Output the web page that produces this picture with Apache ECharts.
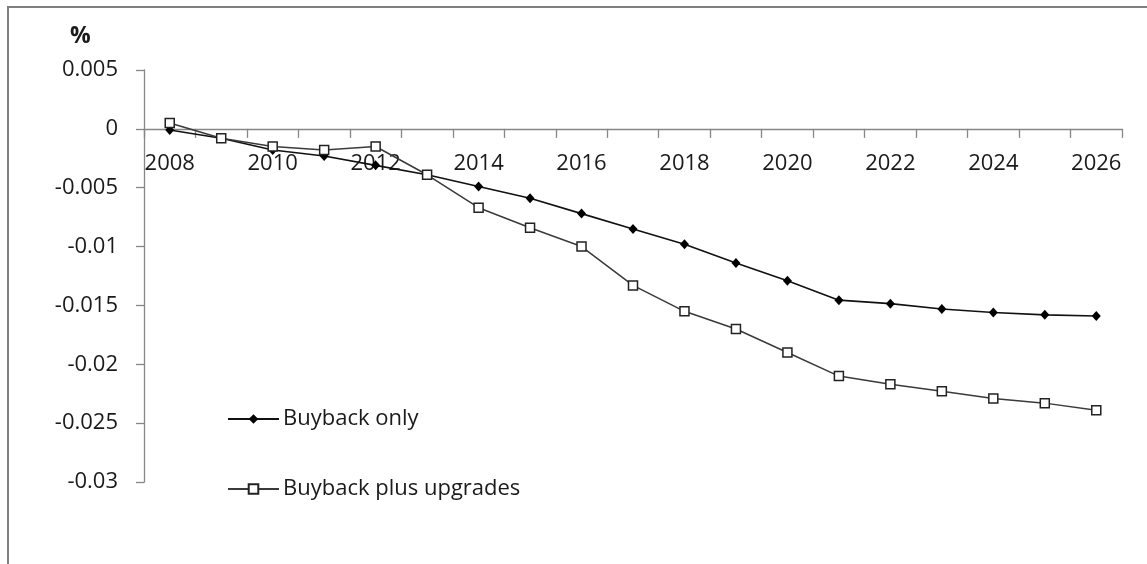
<!DOCTYPE html>
<html>
<head>
<meta charset="utf-8">
<script src="https://cdn.jsdelivr.net/npm/echarts@6/dist/echarts.min.js"></script>
<style>
html,body{margin:0;padding:0;background:#fff;}
#c{width:1147px;height:564px;}
</style>
</head>
<body>
<div id="c"></div>
<script>
const years = ['2008','2009','2010','2011','2012','2013','2014','2015','2016','2017','2018','2019','2020','2021','2022','2023','2024','2025','2026'];
const buybackOnly = [-0.0001,-0.0008,-0.0018,-0.0023,-0.0031,-0.0039,-0.0049,-0.0059,-0.0072,-0.0085,-0.0098,-0.0114,-0.0129,-0.01455,-0.01485,-0.0153,-0.0156,-0.0158,-0.0159];
const buybackPlusUpgrades = [0.0005,-0.0008,-0.0015,-0.0018,-0.0015,-0.0039,-0.0067,-0.0084,-0.0100,-0.0133,-0.0155,-0.0170,-0.0190,-0.0210,-0.0217,-0.0223,-0.0229,-0.0233,-0.0239];
const seriesNames = ['Buyback only','Buyback plus upgrades'];
const yMin = -0.03, yMax = 0.005, yStep = 0.005;
const unitLabel = '%';

const FONT = '"Open Sans", "Liberation Sans", sans-serif';
const TXT = '#1a1a1a';
const AX = '#868686';

const W = 1147, H = 564;
const G = {left:144, right:25, top:70, bottom:82};
const gridH = H - G.top - G.bottom;
// move the category axis up so it sits on value 0
const zeroOffset = -gridH * (0 - yMin) / (yMax - yMin);

const chart = echarts.init(document.getElementById('c'), null, {renderer:'canvas'});
chart.setOption({
  animation:false,
  backgroundColor:'#fff',
  title:{
    text:unitLabel, left:65, top:20,
    textStyle:{fontFamily:FONT, fontSize:23, fontWeight:'bold', color:TXT}
  },
  graphic:[{
    type:'polyline',
    shape:{points:[[8,H],[8,7],[W,7]]},
    style:{stroke:'#7f7f7f', lineWidth:2, fill:null},
    silent:true
  }],
  legend:{
    orient:'vertical', left:227, top:408, padding:0,
    itemWidth:51, itemHeight:12, itemGap:48,
    textStyle:{fontFamily:FONT, fontSize:22, color:TXT, padding:[0,0,0,-1]},
    data:seriesNames
  },
  grid:{left:G.left, right:G.right, top:G.top, bottom:G.bottom, containLabel:false},
  xAxis:{
    type:'category', data:years, boundaryGap:true,
    position:'bottom', offset:zeroOffset,
    axisLine:{onZero:false, lineStyle:{color:AX, width:1.3}},
    axisTick:{show:true, interval:0, length:9, lineStyle:{color:AX, width:1.3}},
    axisLabel:{interval:1, margin:24, fontFamily:FONT, fontSize:22, color:TXT},
    splitLine:{show:false}
  },
  yAxis:{
    type:'value', min:yMin, max:yMax, interval:yStep,
    axisLine:{show:true, lineStyle:{color:AX, width:1.3}},
    axisTick:{show:true, length:8, lineStyle:{color:AX, width:1.3}},
    axisLabel:{margin:26, fontFamily:FONT, fontSize:22, color:TXT,
      formatter:v => String(parseFloat(v.toFixed(3)))},
    splitLine:{show:false}
  },
  series:[
    {
      name:seriesNames[0], type:'line', data:buybackOnly,
      symbol:'diamond', symbolSize:[9,10], showAllSymbol:true,
      lineStyle:{color:'#111', width:1.6},
      itemStyle:{color:'#000', borderColor:'#000', borderWidth:0},
      z:3
    },
    {
      name:seriesNames[1], type:'line', data:buybackPlusUpgrades,
      symbol:'rect', symbolSize:9, showAllSymbol:true,
      lineStyle:{color:'#3a3a3a', width:1.5},
      itemStyle:{color:'#fff', borderColor:'#222', borderWidth:1.5},
      z:4
    }
  ]
});
</script>
</body>
</html>
